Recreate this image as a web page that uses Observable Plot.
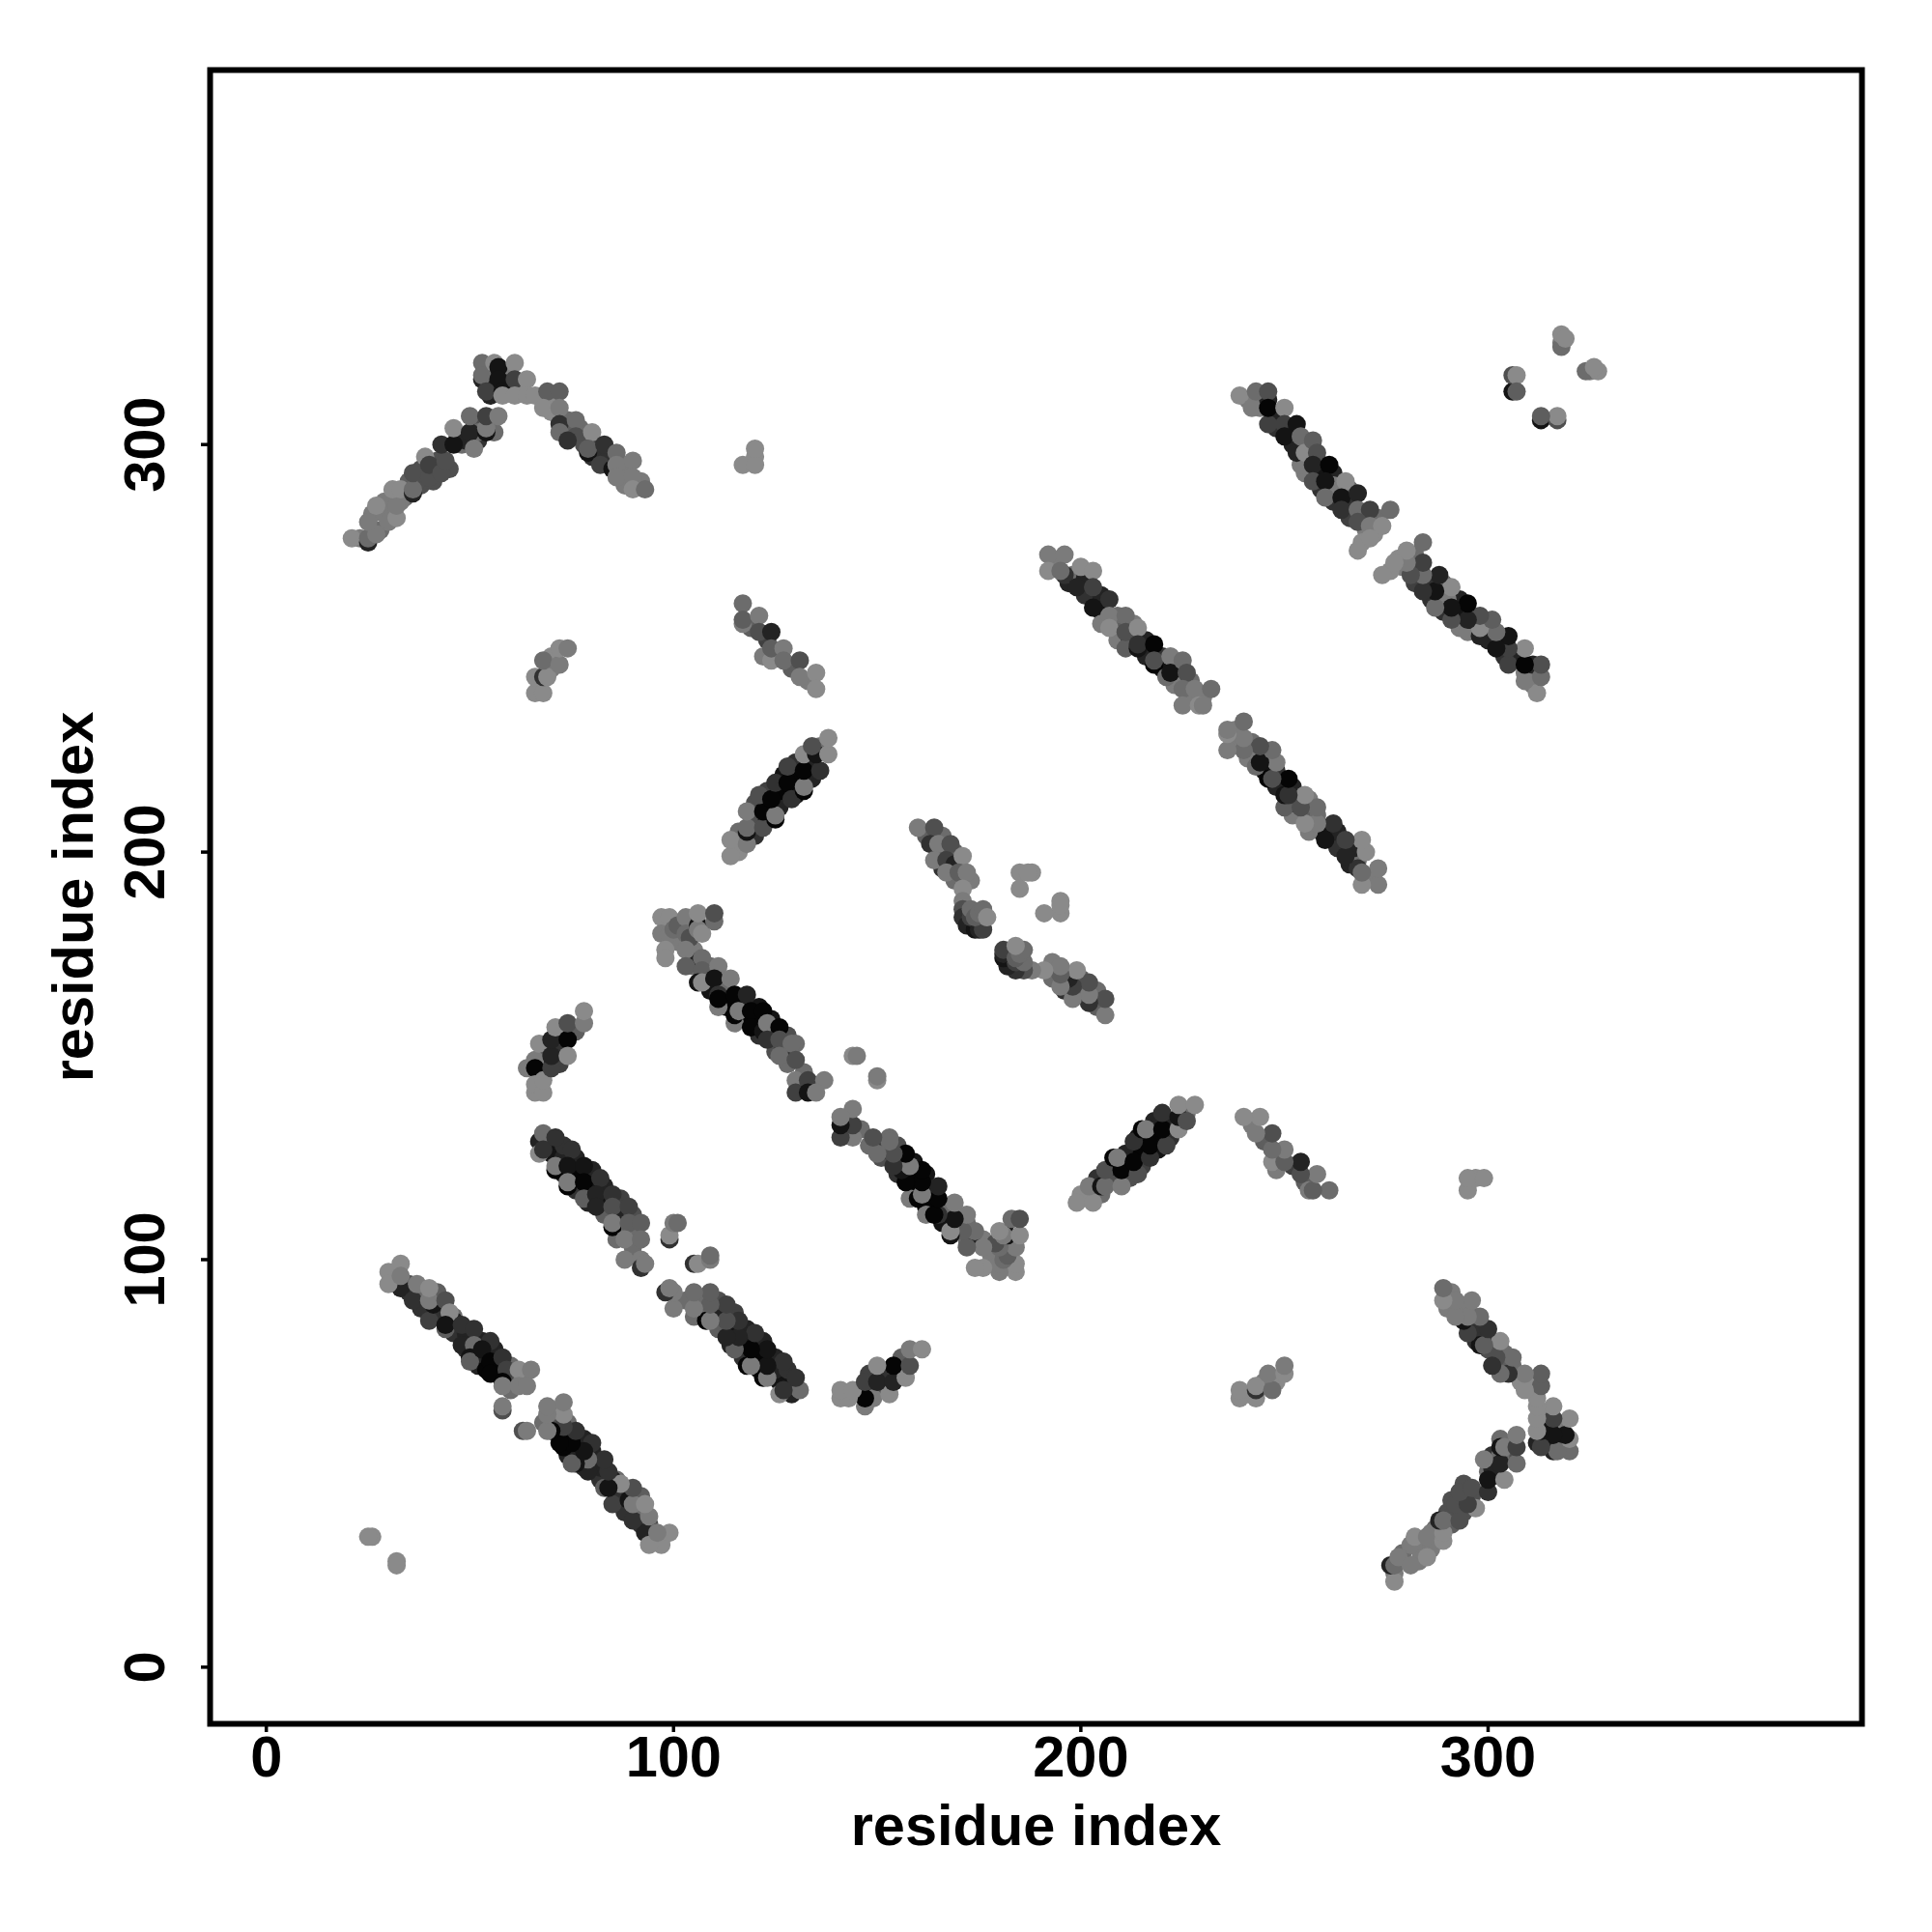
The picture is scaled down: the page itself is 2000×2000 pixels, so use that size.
<!DOCTYPE html>
<html>
<head>
<meta charset="utf-8">
<script src="https://cdn.jsdelivr.net/npm/d3@7"></script>
<script src="https://cdn.jsdelivr.net/npm/@observablehq/plot@0.6"></script>
<style>
html,body{margin:0;padding:0;background:#fff}
svg{display:block}
</style>
</head>
<body>
<div id="chart"></div>
<script>
// Each contact is [residue i, residue j, shade level], 0 = strongest (black), 9 = weakest (gray).
// The map is symmetric, so each contact is listed once with i < j.
const underlay = [
  [23,277,8],[28,279,7],[26,283,8],[29,283,8],[30,281,8],[29,286,8],[34,287,7],[38,290,5],[38,294,5],[42,296,5],[41,291,5],
  [45,294,5],[42,294,4],[48,300,7],[47,302,5],[49,301,2],[52,301,3],[52,305,5],[52,303,7],[56,303,7],[37,291,5],[35,291,6],[33,286,8],
  [55,316,2],[55,318,1],[59,318,8],[59,315,3],[56,314,1],[55,312,2],[62,314,9],[70,311,9],[70,308,9],[74,306,7],[74,304,5],
  [78,303,4],[78,300,5],[77,304,7],[81,300,4],[84,296,1],[88,295,8],[88,290,8],[92,291,8],[84,298,3],[80,297,3],[75,303,6],
  [241,311,8],[244,309,8],[248,307,2],[248,304,3],[251,303,2],[252,300,2],[255,300,2],[256,297,3],[255,293,8],[259,293,1],
  [258,296,5],[262,293,2],[259,289,3],[263,289,2],[262,286,3],[266,285,3],[266,289,7],[266,282,4],[270,282,5],[273,282,7],
  [270,279,8],[272,278,9],[269,276,9],[246,311,2],[262,290,8],[252,303,6],
  [194,271,8],[197,266,2],[198,268,7],[201,267,2],[201,263,3],[205,263,2],[205,259,1],[205,256,8],[209,258,7],[209,254,6],
  [209,252,8],[212,252,4],[213,256,8],[216,252,2],[216,248,2],[220,248,3],[220,245,1],[224,245,3],[223,242,6],[224,243,2],
  [227,242,7],[227,238,8],[230,238,8],[223,241,8],
  [116,200,9],[116,205,7],[120,204,3],[120,208,5],[120,212,5],[123,208,0],[123,211,0],[126,211,2],[126,215,0],[130,214,1],
  [130,218,0],[130,222,3],[134,218,2],[134,222,2],[136,226,7],[127,219,1],[123,215,4],
  [31,96,9],[32,95,8],[35,94,5],[35,92,3],[38,92,7],[38,88,3],[42,88,4],[42,92,6],[42,86,3],[46,82,3],[46,86,7],[46,85,2],
  [49,82,2],[49,78,3],[52,74,2],[53,80,2],[52,78,3],[56,74,1],[56,78,2],[57,72,1],[60,71,5],[60,74,7],[60,68,7],[63,71,8],
  [69,128,3],[70,126,1],[73,125,2],[73,128,3],[73,121,1],[76,121,0],[76,125,2],[76,117,3],[80,118,1],[80,122,2],[79,114,2],
  [83,118,2],[83,114,1],[83,111,6],[87,111,2],[87,115,4],[87,107,7],[90,111,5],[90,107,7],[90,103,7],[86,105,7],
  [99,178,8],[101,178,8],[105,176,8],[105,172,7],[105,173,2],[109,172,7],[109,170,2],[109,166,1],[113,166,1],[113,162,0],
  [113,168,7],[117,163,0],[117,159,0],[121,159,0],[121,162,1],[121,155,3],[124,155,2],[124,159,1],[125,151,5],[128,151,4],
  [128,155,5],[128,148,7],[131,142,4],[134,143,3],[132,146,7],[127,152,3],
  [162,204,6],[166,204,7],[165,200,5],[169,200,6],[169,193,7],[166,196,3],[173,193,8],
  [68,150,2],[68,152,5],[72,152,3],[72,155,5],[72,148,4],[67,146,3],[76,156,6],
  [119,255,6],[123,252,4],[122,248,8],[126,249,6],[129,245,6],[133,242,8],
  [70,245,8],[67,241,9],[70,248,9],[120,297,9],[318,325,8]
];
const corner = [[26,32,9],[25,32,9]];
const helixA = [
  [33,93,2],[30,97,9],[30,94,9],[33,99,9],[33,96,8],[36,90,3],[37,94,8],[40,85,4],[41,89,1],[40,90,8],[40,93,9],
  [44,90,5],[44,83,6],[45,87,9],[44,84,1],[48,79,2],[48,84,3],[51,83,3],[51,79,7],[50,76,1],[50,75,6],[55,80,3],
  [53,78,1],[54,73,0],[55,75,0],[58,76,3],[55,72,0],[59,73,4],[58,70,0],[58,69,8],[62,73,9],[65,73,8],[62,69,8],
  [64,69,8],[58,63,5],[58,64,8]
];
const helixB = [
  [67,129,2],[68,131,7],[67,126,9],[68,127,3],[71,130,3],[71,122,0],[71,123,8],[75,127,3],[74,123,1],[78,123,1],
  [74,118,0],[74,119,8],[78,119,0],[82,120,3],[78,115,6],[81,116,2],[85,116,3],[81,113,2],[85,113,5],[89,113,4],
  [85,108,0],[85,109,8],[89,109,6],[92,109,6],[88,105,8],[92,105,7],[88,100,8],[92,100,8],[92,98,3],[93,99,8],
  [99,105,3],[99,106,9],[100,109,8],[101,109,7]
];
const helixC = [
  [97,184,9],[97,180,8],[99,184,9],[99,180,8],[100,181,7],[101,182,6],[103,184,8],[103,180,7],[104,179,5],[106,182,1],
  [106,181,8],[107,180,9],[106,185,9],[110,183,7],[110,185,5],[98,176,9],[98,174,9],[103,176,8],[103,172,6],[107,174,7],
  [107,171,6],[111,172,8],[106,168,1],[107,168,9],[110,169,1],[111,165,3],[114,169,8],[111,162,8],[111,164,0],[115,158,8],
  [115,160,0],[115,165,0],[118,165,2],[116,161,8],[119,161,0],[122,161,0],[119,157,0],[122,156,1],[123,158,8],[126,157,0],
  [123,154,3],[126,154,5],[130,153,7],[129,153,7],[126,150,7],[130,149,5],[130,144,8],[133,144,4],[137,144,8],[130,141,4],
  [133,141,1],[135,141,8],[144,150,9],[145,150,8]
];
const hairpinC = [
  [160,206,8],[164,206,5],[163,202,3],[165,202,8],[168,202,5],[164,198,8],[167,198,4],[169,197,2],[171,199,9],[167,195,8],
  [170,195,6],[172,195,8],[171,191,9],[171,188,8],[171,186,5],[171,184,3],[172,182,2],[174,181,1],[173,184,4],[175,181,2],
  [176,181,4],[173,186,7],[174,184,6],[175,185,7],[176,186,7],[177,184,9],[185,195,9],[188,195,9],[185,191,9],[187,195,9]
];
const strandD = [
  [192,273,8],[192,269,9],[196,268,3],[196,273,8],[195,269,7],[200,270,9],[199,265,2],[203,269,9],[203,260,1],[203,265,4],
  [207,262,3],[207,258,8],[207,255,9],[211,258,7],[211,250,6],[211,254,5],[214,255,9],[214,250,1],[214,251,3],[218,246,0],
  [218,251,0],[218,247,5],[222,248,8],[221,243,7],[222,244,1],[225,247,7],[226,244,5],[225,240,7],[228,240,8],[232,240,7],
  [225,236,8],[229,236,9],[230,236,8]
];
const strandE = [
  [239,312,9],[242,309,8],[243,313,7],[246,313,5],[246,305,4],[246,309,0],[250,309,9],[250,305,4],[253,305,1],[250,302,1],
  [254,295,8],[253,298,2],[254,302,7],[255,298,9],[257,301,6],[258,298,5],[257,295,2],[257,291,5],[261,295,0],[260,291,1],
  [265,291,9],[260,287,7],[264,287,1],[268,288,2],[264,284,3],[268,284,7],[271,284,4],[268,281,5],[271,280,8],[274,280,9],
  [276,284,7],[271,277,9],[268,274,9]
];
const strandF = [
  [117,261,7],[117,256,8],[117,257,6],[121,258,8],[121,254,5],[124,254,2],[124,247,9],[124,250,6],[127,250,8],[127,247,7],
  [131,247,5],[131,243,8],[135,244,9],[135,240,9]
];
const strandG = [
  [114,199,9],[114,203,9],[118,202,8],[118,205,1],[118,206,7],[118,210,8],[122,206,5],[122,210,0],[121,214,5],[125,208,0],
  [125,209,8],[124,213,0],[125,217,3],[128,217,0],[129,213,3],[128,221,4],[132,215,0],[132,216,8],[132,220,0],[132,224,9],
  [136,220,3],[135,224,1],[134,226,5],[138,224,9],[138,228,9]
];
const strandH = [
  [64,147,8],[66,149,8],[66,147,0],[67,153,9],[66,141,9],[66,143,9],[68,141,9],[68,144,9],[70,147,4],[70,150,2],
  [70,154,2],[71,157,9],[74,154,0],[74,150,9],[74,158,5],[78,158,8],[78,161,9]
];
const strandI = [[66,239,9],[68,239,9],[66,243,9],[68,243,3],[69,243,9],[68,247,7],[72,246,8],[72,250,9],[74,250,8]];
const strandJ = [[117,295,9],[120,295,9],[120,299,9]];
const armK = [
  [21,277,9],[25,276,2],[25,277,7],[27,278,8],[25,281,8],[27,285,9],[32,282,9],[32,285,8],[31,289,9],[33,289,9],
  [36,288,2],[36,289,7],[36,293,5],[39,297,9],[40,292,5],[40,295,4],[43,293,5],[44,296,5],[43,300,3],[46,300,1],
  [46,304,9],[50,303,2],[51,299,8],[50,307,7],[54,303,1],[54,304,8],[54,307,4],[57,307,8]
];
const armL = [
  [53,316,2],[53,320,7],[53,317,7],[56,320,9],[57,319,1],[57,316,1],[54,313,4],[61,320,9],[58,313,1],[58,312,9],[61,316,4],
  [64,316,9],[61,312,9],[64,312,9],[66,312,9],[69,313,6],[72,313,6],[68,309,9],[72,309,8],[72,305,3],[72,303,7],[76,306,7],
  [76,302,5],[74,301,3],[80,303,9],[79,298,1],[79,299,6],[83,300,3],[82,295,4],[86,298,7],[85,294,1],[86,295,8],[86,292,8],
  [90,296,8],[90,292,8],[90,289,9],[93,289,7]
];
const cornerM = [[306,313,1],[306,317,5],[307,317,9],[307,313,6],[318,324,7],[318,327,9],[319,326,9]];

const bands = [underlay, corner, helixA, helixB, helixC, hairpinC, strandD, strandE, strandF, strandG, strandH, strandI, strandJ, armK, armL, cornerM];
const contacts = bands.flat().flatMap(([i, j, s]) => [{x: i, y: j, s}, {x: j, y: i, s}]);

const tickValues = [0, 100, 200, 300];
const axisTitle = "residue index";

const chart = Plot.plot({
  width: 2000,
  height: 2000,
  marginLeft: 217,
  marginRight: 73,
  marginTop: 72,
  marginBottom: 216,
  style: {background: "#fff", fontFamily: "'Liberation Sans', Arial, sans-serif", color: "#000"},
  x: {domain: [-13.8, 391.8]},
  y: {domain: [-13.9, 391.9]},
  color: {type: "linear", domain: [0, 9], range: ["#050505", "#8a8a8a"]},
  marks: [
    Plot.dot(contacts, {x: "x", y: "y", r: 9.5, fill: "s", stroke: "none"}),
    Plot.frame({stroke: "#000", strokeWidth: 6}),
    Plot.axisX({
      ticks: tickValues, tickFormat: "d", tickSize: 9, tickPadding: 3, strokeWidth: 3.5,
      fontSize: 59.5, fontWeight: "bold", fill: "#000",
      label: axisTitle, labelAnchor: "center", labelArrow: "none", labelOffset: 125
    }),
    Plot.axisY({
      ticks: tickValues, tickFormat: "d", tickSize: 9, tickPadding: 39, tickRotate: -90, textAnchor: "middle",
      strokeWidth: 3.5, fontSize: 59.5, fontWeight: "bold", fill: "#000",
      label: axisTitle, labelAnchor: "center", labelArrow: "none", labelOffset: 164
    })
  ]
});
document.getElementById("chart").appendChild(chart);
</script>
</body>
</html>
